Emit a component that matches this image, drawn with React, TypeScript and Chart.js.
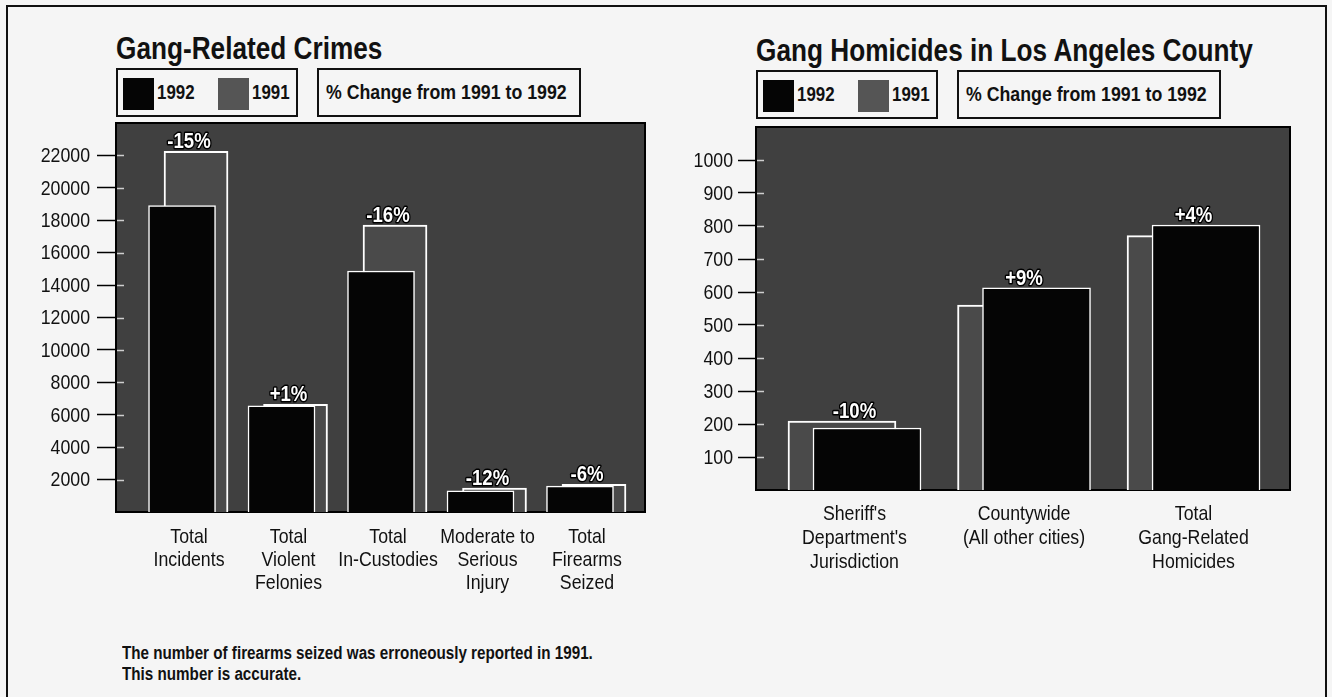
import React, { useEffect, useRef } from "react";
import { Chart, registerables } from "chart.js";

Chart.register(...registerables);

// ---------- DATA ----------
const crimeCategories = [
  ["Total", "Incidents"],
  ["Total", "Violent", "Felonies"],
  ["Total", "In-Custodies"],
  ["Moderate to", "Serious", "Injury"],
  ["Total", "Firearms", "Seized"],
];
const crimes1992 = [18900, 6550, 14870, 1300, 1600];
const crimes1991 = [22250, 6650, 17700, 1480, 1700];
const crimeChange = ["-15%", "+1%", "-16%", "-12%", "-6%"];
const crimeYTicks = [2000, 4000, 6000, 8000, 10000, 12000, 14000, 16000, 18000, 20000, 22000];

const homicideCategories = [
  ["Sheriff's", "Department's", "Jurisdiction"],
  ["Countywide", "(All other cities)"],
  ["Total", "Gang-Related", "Homicides"],
];
const homicides1992 = [188, 613, 803];
const homicides1991 = [209, 560, 771];
const homicideChange = ["-10%", "+9%", "+4%"];
const homicideYTicks = [100, 200, 300, 400, 500, 600, 700, 800, 900, 1000];

// ---------- STYLE ----------
const FONT = '"Liberation Sans", Arimo, Arial, sans-serif';
const CX = 0.845; // horizontal condensing of the typeface
const PAGE_BG = "#f5f5f5";
const FRAME_BG = "#404040";
const BAR91 = "#4a4a4a";
const BAR92 = "#050505";
const INK = "#111";

type Spec = {
  categories: string[][];
  v92: number[];
  v91: number[];
  change: string[];
  yTicks: number[];
  yMax: number;
  xMin: number;
  xMax: number;
  shift92Px: number;
  shift91Px: number;
  bar92: number;
  bar91: number;
  canvas: { left: number; top: number; w: number; h: number };
  pad: { top: number; right: number };
  yAxisW: number;
  xAxisH: number;
  tickLength: number;
  tickPad: number;
  labelBase: number;
  labelStep: number;
};

const crimeSpec: Spec = {
  categories: crimeCategories,
  v92: crimes1992,
  v91: crimes1991,
  change: crimeChange,
  yTicks: crimeYTicks,
  yMax: 24000,
  xMin: -0.734,
  xMax: 4.583,
  shift92Px: -7,
  shift91Px: 7,
  bar92: 67,
  bar91: 64,
  canvas: { left: 0, top: 100, w: 670, h: 540 },
  pad: { top: 23, right: 25 },
  yAxisW: 116,
  xAxisH: 128,
  tickLength: 19,
  tickPad: 7,
  labelBase: 31,
  labelStep: 23,
};

const homicideSpec: Spec = {
  categories: homicideCategories,
  v92: homicides1992,
  v91: homicides1991,
  change: homicideChange,
  yTicks: homicideYTicks,
  yMax: 1100,
  xMin: -0.581,
  xMax: 2.569,
  shift92Px: 12.5,
  shift91Px: -12.5,
  bar92: 108,
  bar91: 108,
  canvas: { left: 670, top: 100, w: 662, h: 540 },
  pad: { top: 27, right: 42 },
  yAxisW: 86,
  xAxisH: 150,
  tickLength: 18,
  tickPad: 5,
  labelBase: 30,
  labelStep: 24,
};

function condensedText(ctx: any, t: string, x: number, y: number, stroke = false) {
  ctx.save();
  ctx.translate(x, y);
  ctx.scale(CX, 1);
  if (stroke) ctx.strokeText(t, 0, 0);
  ctx.fillText(t, 0, 0);
  ctx.restore();
}

function buildConfig(s: Spec): any {
  const areaW = s.canvas.w - s.yAxisW - s.pad.right;
  const pxPerUnit = areaW / (s.xMax - s.xMin);
  const u92 = -s.shift92Px / pxPerUnit;
  const u91 = -s.shift91Px / pxPerUnit;
  const catTicks = (scale: any) => {
    scale.ticks = s.categories.map((_, i) => ({ value: i }));
  };

  const framePlugin = {
    id: "frame",
    beforeDatasetsDraw(chart: any) {
      const { ctx, chartArea: a } = chart;
      const ys = chart.scales.y;
      ctx.save();
      ctx.fillStyle = FRAME_BG;
      ctx.fillRect(a.left, a.top, a.right - a.left, a.bottom - a.top);
      // tick marks continue a little into the frame, in white
      ctx.strokeStyle = "rgba(255,255,255,0.75)";
      ctx.lineWidth = 1.5;
      s.yTicks.forEach((v) => {
        const y = Math.round(ys.getPixelForValue(v)) + 0.5;
        ctx.beginPath();
        ctx.moveTo(a.left, y);
        ctx.lineTo(a.left + 8, y);
        ctx.stroke();
      });
      ctx.strokeStyle = "#000";
      ctx.lineWidth = 2;
      ctx.strokeRect(a.left, a.top, a.right - a.left, a.bottom - a.top);
      ctx.restore();
    },
  };

  const textPlugin = {
    id: "texts",
    afterDatasetsDraw(chart: any) {
      const { ctx, chartArea: a } = chart;
      const xs = chart.scales.x;
      const ys = chart.scales.y;
      ctx.save();
      // % change labels
      ctx.font = `bold 22px ${FONT}`;
      ctx.textAlign = "center";
      ctx.textBaseline = "alphabetic";
      ctx.lineJoin = "round";
      ctx.strokeStyle = "#000";
      ctx.lineWidth = 3;
      ctx.fillStyle = "#fff";
      s.change.forEach((t, i) => {
        const x = xs.getPixelForValue(i);
        const y = ys.getPixelForValue(Math.max(s.v91[i], s.v92[i])) - 3;
        condensedText(ctx, t, x, y, true);
      });
      // category labels
      ctx.font = `21px ${FONT}`;
      ctx.fillStyle = INK;
      s.categories.forEach((lines, i) => {
        const x = xs.getPixelForValue(i);
        lines.forEach((ln, k) => {
          condensedText(ctx, ln, x, a.bottom + s.labelBase + k * s.labelStep);
        });
      });
      // value-axis labels
      ctx.textAlign = "right";
      ctx.textBaseline = "middle";
      s.yTicks.forEach((v) => {
        const y = ys.getPixelForValue(v);
        condensedText(ctx, String(v), a.left - s.tickLength - s.tickPad, y + 1);
      });
      ctx.restore();
    },
  };

  const hiddenX = (shift: number) => ({
    type: "linear",
    display: false,
    offset: false,
    bounds: "data",
    min: s.xMin + shift,
    max: s.xMax + shift,
    afterBuildTicks: catTicks,
  });

  return {
    type: "bar",
    data: {
      datasets: [
        {
          label: "1992",
          data: s.v92.map((y, i) => ({ x: i, y })),
          xAxisID: "x92",
          yAxisID: "y",
          grouped: false,
          backgroundColor: BAR92,
          borderColor: "#ffffff",
          borderWidth: 1.5,
          borderSkipped: "bottom",
          barThickness: s.bar92,
          order: 1,
        },
        {
          label: "1991",
          data: s.v91.map((y, i) => ({ x: i, y })),
          xAxisID: "x91",
          yAxisID: "y",
          grouped: false,
          backgroundColor: BAR91,
          borderColor: "#ffffff",
          borderWidth: 2,
          borderSkipped: "bottom",
          barThickness: s.bar91,
          order: 2,
        },
      ],
    },
    options: {
      responsive: false,
      animation: false,
      devicePixelRatio: 1,
      layout: { padding: { left: 0, top: s.pad.top, right: s.pad.right, bottom: 0 } },
      plugins: { legend: { display: false }, tooltip: { enabled: false } },
      scales: {
        x: {
          type: "linear",
          position: "bottom",
          offset: false,
          bounds: "data",
          min: s.xMin,
          max: s.xMax,
          afterBuildTicks: catTicks,
          afterFit: (scale: any) => {
            scale.height = s.xAxisH;
          },
          grid: { display: false, drawTicks: false, offset: false },
          border: { display: false },
          ticks: { display: false },
        },
        x92: hiddenX(u92),
        x91: hiddenX(u91),
        y: {
          type: "linear",
          position: "left",
          min: 0,
          max: s.yMax,
          afterBuildTicks: (scale: any) => {
            scale.ticks = s.yTicks.map((v) => ({ value: v }));
          },
          afterFit: (scale: any) => {
            scale.width = s.yAxisW;
          },
          grid: {
            drawOnChartArea: false,
            drawTicks: true,
            tickLength: s.tickLength,
            tickWidth: 1.5,
            tickColor: "#000",
          },
          border: { display: false },
          ticks: { display: false },
        },
      },
    },
    plugins: [framePlugin, textPlugin],
  };
}

function BarPanel({ spec }: { spec: Spec }) {
  const ref = useRef<HTMLCanvasElement>(null);
  useEffect(() => {
    const chart = new Chart(ref.current as HTMLCanvasElement, buildConfig(spec));
    return () => chart.destroy();
  }, [spec]);
  const c = spec.canvas;
  return (
    <canvas
      ref={ref}
      width={c.w}
      height={c.h}
      style={{ position: "absolute", left: c.left, top: c.top, width: c.w, height: c.h }}
    />
  );
}

const condensed: React.CSSProperties = {
  position: "absolute",
  whiteSpace: "nowrap",
  transform: `scaleX(${CX})`,
  transformOrigin: "0 0",
  color: INK,
};

function Legend({ left, top }: { left: number; top: number }) {
  const text: React.CSSProperties = {
    ...condensed,
    font: `bold 20px ${FONT}`,
    lineHeight: "22px",
    top: 11,
  };
  return (
    <>
      <div
        style={{
          position: "absolute",
          left,
          top,
          width: 182,
          height: 49,
          border: "2px solid #111",
          boxSizing: "border-box",
        }}
      >
        <div style={{ position: "absolute", left: 5, top: 8, width: 31, height: 32, background: BAR92 }} />
        <span style={{ ...text, left: 39 }}>1992</span>
        <div style={{ position: "absolute", left: 100, top: 8, width: 31, height: 32, background: "#555" }} />
        <span style={{ ...text, left: 134 }}>1991</span>
      </div>
      <div
        style={{
          position: "absolute",
          left: left + 201,
          top,
          width: 264,
          height: 49,
          border: "2px solid #111",
          boxSizing: "border-box",
        }}
      >
        <span style={{ ...text, left: 7, font: `bold 21px ${FONT}` }}>% Change from 1991 to 1992</span>
      </div>
    </>
  );
}

export default function App() {
  const title: React.CSSProperties = {
    ...condensed,
    font: `bold 31px ${FONT}`,
    lineHeight: "31px",
  };
  return (
    <div
      style={{
        position: "fixed",
        left: 0,
        top: 0,
        width: 1332,
        height: 697,
        background: PAGE_BG,
        overflow: "hidden",
        fontFamily: FONT,
      }}
    >
      <div
        style={{
          position: "absolute",
          left: 6,
          top: 5,
          width: 1321,
          height: 720,
          border: "2px solid #111",
          boxSizing: "border-box",
        }}
      />
      <div style={{ ...title, left: 116, top: 33 }}>Gang-Related Crimes</div>
      <div style={{ ...title, left: 756, top: 35 }}>Gang Homicides in Los Angeles County</div>
      <Legend left={116} top={68} />
      <Legend left={756} top={70} />
      <BarPanel spec={crimeSpec} />
      <BarPanel spec={homicideSpec} />
      <div
        style={{
          ...condensed,
          left: 122,
          top: 643,
          font: `bold 18px ${FONT}`,
          lineHeight: "21px",
        }}
      >
        The number of firearms seized was erroneously reported in 1991.
        <br />
        This number is accurate.
      </div>
    </div>
  );
}
